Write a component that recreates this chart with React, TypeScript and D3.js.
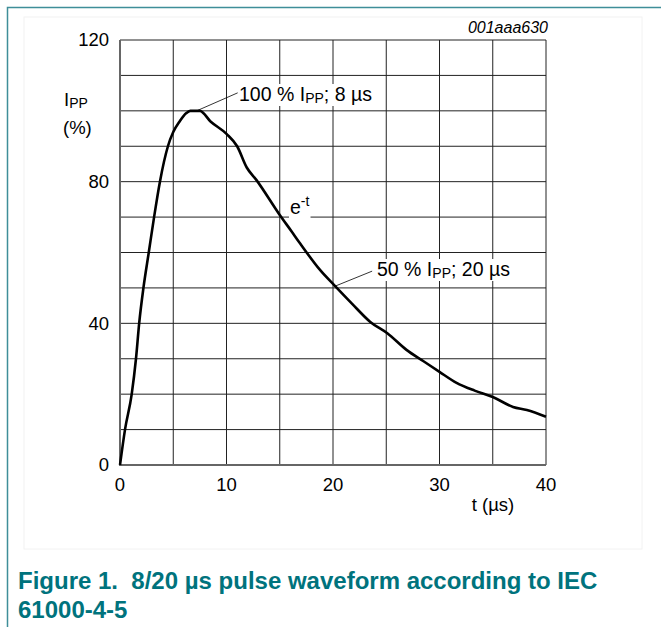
import React, { useEffect, useRef } from 'react';
import * as d3 from 'd3';

// pulse waveform: time (µs) and current (% of Ipp)
const timeUs = [0, 0.47, 1.1, 1.5, 1.8, 2.2, 2.7, 3.2, 3.75, 4.5, 5, 5.6, 6.2, 6.6, 7.5, 8.5, 10, 11, 11.9, 12.8, 15, 16.1, 16.9, 18.8, 20.2, 21.8, 23.5, 25.1, 26.9, 28.5, 30, 31.6, 33.3, 35, 36.9, 38.2, 40];
const currentPct = [0, 10, 20, 30, 40, 50, 60, 70, 80, 90, 94, 97, 99.3, 100, 100, 97, 93.5, 90, 84, 80.5, 70.6, 66, 62.6, 55, 50.5, 45.5, 40.4, 37.2, 32.5, 29.3, 26.3, 23.2, 21, 19.2, 16.4, 15.5, 13.6];

const xTickLabels = [0, 10, 20, 30, 40];
const yTickLabels = [0, 40, 80, 120];
const peakPoint = [7.2, 100];
const halfPoint = [20.2, 50.5];

const FONT = 'Liberation Sans, Arial, sans-serif';
const FS = 18.5;
const ANN = 19.5;
const SUB = 14;

export default function App() {
    const ref = useRef<SVGSVGElement>(null);

    useEffect(() => {
        const svg = d3.select(ref.current);
        svg.selectAll('*').remove();

        const x = d3.scaleLinear().domain([0, 40]).range([120, 546]);
        const y = d3.scaleLinear().domain([0, 120]).range([465, 40]);

        // page frame
        svg.append('rect')
            .attr('x', 24).attr('y', 17).attr('width', 618).attr('height', 532)
            .attr('fill', 'none').attr('stroke', '#f2f2f2');
        svg.append('path')
            .attr('d', 'M7.5,627V7.5H661')
            .attr('fill', 'none').attr('stroke', '#3f8e99').attr('stroke-width', 1.5);

        // grid
        const g = svg.append('g');
        g.selectAll('line.v')
            .data(d3.range(0, 41, 5))
            .enter()
            .append('line')
            .attr('x1', d => x(d)).attr('x2', d => x(d))
            .attr('y1', y(0)).attr('y2', y(120))
            .attr('stroke', '#222').attr('stroke-width', 1);
        g.selectAll('line.h')
            .data(d3.range(0, 121, 10))
            .enter()
            .append('line')
            .attr('y1', d => y(d)).attr('y2', d => y(d))
            .attr('x1', x(0)).attr('x2', x(40))
            .attr('stroke', '#222').attr('stroke-width', 1);
        // axes a bit heavier
        g.append('path')
            .attr('d', `M${x(0)},${y(120)}V${y(0)}H${x(40)}`)
            .attr('fill', 'none').attr('stroke', '#666').attr('stroke-width', 2);

        // tick labels
        svg.selectAll('text.xt')
            .data(xTickLabels)
            .enter()
            .append('text')
            .attr('x', d => x(d)).attr('y', 491)
            .attr('text-anchor', 'middle')
            .attr('font-family', FONT).attr('font-size', FS)
            .text(d => d);
        svg.selectAll('text.yt')
            .data(yTickLabels)
            .enter()
            .append('text')
            .attr('x', 109).attr('y', d => y(d)).attr('dy', '0.35em')
            .attr('text-anchor', 'end')
            .attr('font-family', FONT).attr('font-size', FS)
            .text(d => d);

        svg.append('text')
            .attr('x', 548).attr('y', 33)
            .attr('text-anchor', 'end')
            .attr('font-family', FONT).attr('font-size', 16).attr('font-style', 'italic')
            .text('001aaa630');

        // axis titles
        const yt = svg.append('text')
            .attr('x', 64).attr('y', 106)
            .attr('font-family', FONT).attr('font-size', FS);
        yt.append('tspan').text('I');
        yt.append('tspan').attr('font-size', SUB).attr('dy', 2).text('PP');
        svg.append('text')
            .attr('x', 63).attr('y', 134)
            .attr('font-family', FONT).attr('font-size', FS)
            .text('(%)');
        svg.append('text')
            .attr('x', 493).attr('y', 511)
            .attr('text-anchor', 'middle')
            .attr('font-family', FONT).attr('font-size', FS)
            .text('t (µs)');

        // curve
        const pts = timeUs.map((t, i) => [t, currentPct[i]] as [number, number]);
        const line = d3.line<[number, number]>()
            .x(d => x(d[0]))
            .y(d => y(d[1]))
            .curve(d3.curveMonotoneX);
        svg.append('path')
            .attr('d', line(pts))
            .attr('fill', 'none').attr('stroke', '#000').attr('stroke-width', 2.6)
            .attr('stroke-linejoin', 'round');

        // annotations
        const label = (tx: number, ty: number, main: string, sub: string, rest: string) => {
            const t = svg.append('text')
                .attr('x', tx).attr('y', ty)
                .attr('font-family', FONT).attr('font-size', ANN);
            t.append('tspan').text(main);
            t.append('tspan').attr('font-size', SUB).attr('dy', 2).text(sub);
            t.append('tspan').attr('dy', -2).text(rest);
            const bb = (t.node() as SVGTextElement).getBBox();
            svg.insert('rect', () => t.node())
                .attr('x', bb.x - 1).attr('y', bb.y + 1)
                .attr('width', bb.width + 2).attr('height', bb.height - 1)
                .attr('fill', '#fff');
        };

        svg.append('line')
            .attr('x1', x(peakPoint[0])).attr('y1', y(peakPoint[1]))
            .attr('x2', x(peakPoint[0]) + 41).attr('y2', y(peakPoint[1]) - 18)
            .attr('stroke', '#000').attr('stroke-width', 0.8);
        label(239, 101, '100 % I', 'PP', '; 8 µs');

        svg.append('line')
            .attr('x1', x(halfPoint[0])).attr('y1', y(halfPoint[1]))
            .attr('x2', x(halfPoint[0]) + 37).attr('y2', y(halfPoint[1]) - 15)
            .attr('stroke', '#000').attr('stroke-width', 0.8);
        label(377, 276, '50 % I', 'PP', '; 20 µs');

        const e = svg.append('text')
            .attr('x', 290).attr('y', 214)
            .attr('font-family', FONT).attr('font-size', ANN);
        e.append('tspan').text('e');
        e.append('tspan').attr('font-size', SUB).attr('dy', -8).text('-t');
        const eb = (e.node() as SVGTextElement).getBBox();
        svg.insert('rect', () => e.node())
            .attr('x', eb.x - 1).attr('y', eb.y + 1)
            .attr('width', eb.width + 2).attr('height', eb.height - 1)
            .attr('fill', '#fff');

        // caption
        const cap = svg.append('text')
            .attr('font-family', FONT).attr('font-size', 24).attr('font-weight', 'bold')
            .attr('fill', '#00737d');
        cap.append('tspan').attr('x', 18).attr('y', 589)
            .text('Figure 1.\u00a0 8/20 µs pulse waveform according to IEC');
        cap.append('tspan').attr('x', 18).attr('y', 618).text('61000-4-5');
    }, []);

    return (
        <svg ref={ref} width={661} height={627}
             style={{position: 'absolute', left: 0, top: 0, background: '#fff'}}/>
    );
}
